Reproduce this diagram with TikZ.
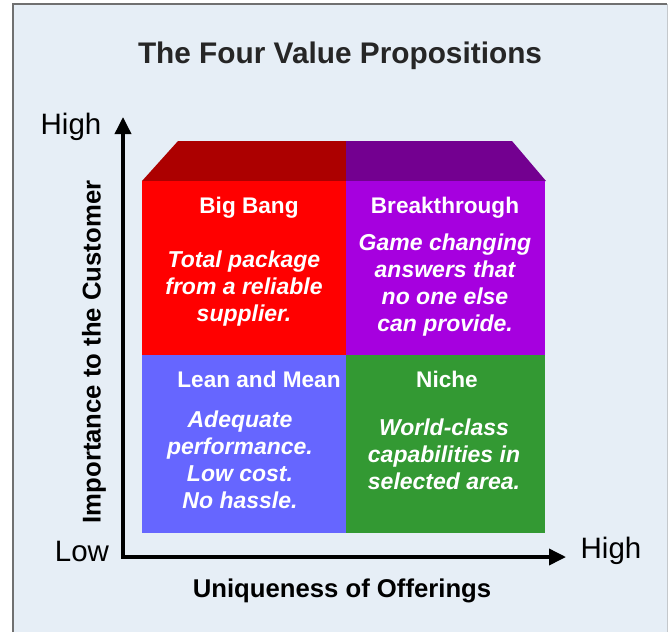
\documentclass[tikz,border=0pt]{standalone}
\usepackage{fontspec}
\setmainfont{Liberation Sans}
\usetikzlibrary{arrows.meta,calc}
\definecolor{bgpanel}{HTML}{E6EEF6}
\definecolor{framegray}{HTML}{707070}
\definecolor{framelight}{HTML}{C4C8CC}
\definecolor{bbred}{HTML}{FF0000}
\definecolor{bbredtop}{HTML}{AC0000}
\definecolor{btpurple}{HTML}{A600DF}
\definecolor{btpurpletop}{HTML}{730090}
\definecolor{lmblue}{HTML}{6666FF}
\definecolor{nigreen}{HTML}{339933}
\tikzset{
  quad/.style={draw=none,minimum width=#1,minimum height=175pt,inner sep=0pt,outer sep=0pt},
  heading/.style={text=white,font=\fontsize{22.6}{27}\selectfont\bfseries,inner sep=0pt},
  body/.style={text=white,font=\fontsize{23}{27}\selectfont\bfseries\itshape,align=center,inner sep=0pt},
  axislabel/.style={text=black,font=\fontsize{25.7}{28}\selectfont\bfseries,inner sep=0pt},
  endlabel/.style={text=black,font=\fontsize{29.5}{32}\selectfont,inner sep=0pt},
  axisline/.style={line width=3.6pt,-{Triangle[length=17pt,width=16pt]}},
}
\begin{document}
\begin{tikzpicture}[x=1pt,y=-1pt]
\useasboundingbox (0,0) rectangle (668,632);
\fill[white] (0,0) rectangle (668,632);
% panel
\fill[bgpanel] (13,4) rectangle (667,632);
\draw[framegray,line width=1.2pt] (13,632) -- (13,4) -- (667,4);
\draw[framelight,line width=1pt] (667,4) -- (667,632);
% title
\node[font=\fontsize{29.8}{32}\selectfont\bfseries,text=black!85,inner sep=0pt] (title) at (340,56) {The Four Value Propositions};
% top faces
\fill[bbredtop] (178,141) -- (346,141) -- (346,181) -- (142,181) -- cycle;
\fill[btpurpletop] (346,141) -- (512,141) -- (546,181) -- (346,181) -- cycle;
% quadrants
\node[quad=204pt,fill=bbred,anchor=north west] (bigbang) at (142,181) {};
\node[quad=199pt,fill=btpurple,anchor=north west] (breakthrough) at (346,181) {};
\node[quad=204pt,fill=lmblue,anchor=north west,minimum height=178pt] (leanmean) at (142,355) {};
\node[quad=199pt,fill=nigreen,anchor=north west,minimum height=178pt] (niche) at (346,355) {};
% texts
\node[heading] (bbh) at (249,208) {Big Bang};
\node[body] (bbb) at (244,289) {Total package\\from a reliable\\supplier.};
\node[heading] (bth) at (445,208) {Breakthrough};
\node[body] (btb) at (445,285.5) {Game changing\\answers that\\no one else\\can provide.};
\node[heading] (lmh) at (259,379) {Lean and Mean};
\node[body] (lmb) at (240,459.5) {Adequate\\performance.\\Low cost.\\No hassle.};
\node[heading] (nih) at (447,379) {Niche};
\node[body] (nib) at (444,454) {World-class\\capabilities in\\selected area.};
% axes
\coordinate (origin) at (123,557);
\coordinate (ytip) at (123,117);
\coordinate (xtip) at (566,557);
\draw[axisline] ($(origin)+(0,1.8)$) -- (ytip);
\draw[axisline] ($(origin)+(-1.8,0)$) -- (xtip);
\node[endlabel] (yhigh) at (71,127) {High};
\node[endlabel] (xlow) at (82,551) {Low};
\node[endlabel] (xhigh) at (611,551) {High};
\node[axislabel] (xlabel) at (342,591) {Uniqueness of Offerings};
\node[axislabel,rotate=90] (ylabel) at (94,352) {Importance to the Customer};
\end{tikzpicture}
\end{document}
